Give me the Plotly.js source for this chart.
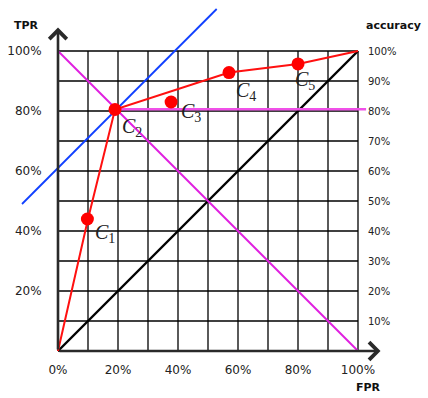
<!DOCTYPE html>
<html>
<head>
<meta charset="utf-8">
<script src="https://cdn.plot.ly/plotly-3.0.1.min.js"></script>
<style>html,body{margin:0;padding:0;background:#fff;}#chart{width:428px;height:398px;}</style>
</head>
<body>
<div id="chart"></div>
<script>
// ---- data ----
var gridVals = [0, 0.1, 0.2, 0.3, 0.4, 0.5, 0.6, 0.7, 0.8, 0.9, 1.0];
var tprTickVals = [0.2, 0.4, 0.6, 0.8, 1.0];
var tprTickText = ['20%', '40%', '60%', '80%', '100%'];
var fprTickVals = [0, 0.2, 0.4, 0.6, 0.8, 1.0];
var fprTickText = ['0%', '20%', '40%', '60%', '80%', '100%'];
var accTickVals = [0.1, 0.2, 0.3, 0.4, 0.5, 0.6, 0.7, 0.8, 0.9, 1.0];
var accTickText = ['10%', '20%', '30%', '40%', '50%', '60%', '70%', '80%', '90%', '100%'];

var rocFPR = [0, 0.10, 0.19, 0.57, 0.80, 1.0];
var rocTPR = [0, 0.44, 0.805, 0.928, 0.957, 1.0];

var classifierNames = ['1', '2', '3', '4', '5'];
var classifierFPR = [0.098, 0.19, 0.377, 0.57, 0.80];
var classifierTPR = [0.44, 0.805, 0.83, 0.928, 0.957];

var chanceFPR = [0, 1];
var chanceTPR = [0, 1];
var antiDiagFPR = [0, 1];
var antiDiagTPR = [1, 0];
var isoAccFPR = [-0.12, 0.529];
var isoAccTPR = [0.49, 1.14];
var accLevelFPR = [0.19, 1.027];
var accLevelTPR = [0.806, 0.806];

// label offsets (pixels) from each classifier point
var labelDx = [6, 5, 8, 5, -5];
var labelDy = [14, 18, 10, 19, 17];

// ---- grid segments from grid values ----
var gx = [], gy = [];
gridVals.forEach(function (v) {
  gx.push(v, v, null); gy.push(0, 1, null);
  gx.push(0, 1, null); gy.push(v, v, null);
});

var traces = [
  {x: gx, y: gy, mode: 'lines', line: {color: '#000', width: 1.3}, hoverinfo: 'skip'},
  {x: chanceFPR, y: chanceTPR, mode: 'lines', line: {color: '#000', width: 2.4}, hoverinfo: 'skip'},
  {x: antiDiagFPR, y: antiDiagTPR, mode: 'lines', line: {color: '#e020e0', width: 2}, hoverinfo: 'skip'},
  {x: accLevelFPR, y: accLevelTPR, mode: 'lines', line: {color: '#f050e8', width: 2.6}, hoverinfo: 'skip'},
  {x: isoAccFPR, y: isoAccTPR, mode: 'lines', line: {color: '#1040ff', width: 1.8}, hoverinfo: 'skip'},
  {x: rocFPR, y: rocTPR, mode: 'lines', line: {color: '#ff1010', width: 2}, hoverinfo: 'skip'},
  {x: classifierFPR, y: classifierTPR, mode: 'markers', marker: {color: '#ff0000', size: 13}, hoverinfo: 'skip'},
  {x: accTickVals.map(function () { return 1; }), y: accTickVals, yaxis: 'y2', mode: 'markers',
   marker: {opacity: 0}, hoverinfo: 'skip'}
];

var xr = [-58 / 300, 370 / 300];
var yr = [-47 / 300, 351 / 300];

var annotations = [
  // axis arrows
  {x: 1.075, y: 0, ax: 0, ay: 0, xref: 'x', yref: 'y', axref: 'x', ayref: 'y',
   showarrow: true, arrowhead: 4, arrowsize: 1.3, arrowwidth: 2.6, arrowcolor: '#2a2a2a', text: ''},
  {x: 0, y: 1.078, ax: 0, ay: 0, xref: 'x', yref: 'y', axref: 'x', ayref: 'y',
   showarrow: true, arrowhead: 4, arrowsize: 1.3, arrowwidth: 2.6, arrowcolor: '#2a2a2a', text: ''},
  // axis titles
  {x: 27 / 428, y: 1 - 26 / 398, xref: 'paper', yref: 'paper', xanchor: 'center', yanchor: 'middle',
   text: '<b>TPR</b>', showarrow: false, font: {family: 'DejaVu Sans', size: 11, color: '#111'}},
  {x: 393 / 428, y: 1 - 26 / 398, xref: 'paper', yref: 'paper', xanchor: 'center', yanchor: 'middle',
   text: '<b>accuracy</b>', showarrow: false, font: {family: 'DejaVu Sans', size: 11, color: '#111'}},
  {x: 368 / 428, y: 1 - 387 / 398, xref: 'paper', yref: 'paper', xanchor: 'center', yanchor: 'middle',
   text: '<b>FPR</b>', showarrow: false, font: {family: 'DejaVu Sans', size: 11, color: '#111'}}
];

classifierNames.forEach(function (n, i) {
  annotations.push({
    x: classifierFPR[i], y: classifierTPR[i], xref: 'x', yref: 'y',
    text: '<i>C</i><sub>' + n + '</sub>', showarrow: false,
    xanchor: 'left', yanchor: 'middle', xshift: labelDx[i], yshift: -labelDy[i],
    font: {family: 'Liberation Serif', size: 20, color: '#222'}
  });
});

var layout = {
  width: 428, height: 398,
  margin: {l: 0, r: 0, t: 0, b: 0},
  paper_bgcolor: '#fff', plot_bgcolor: '#fff',
  showlegend: false,
  font: {family: 'DejaVu Sans', size: 12, color: '#222'},
  xaxis: {range: xr, showgrid: false, zeroline: false, showline: false,
          anchor: 'free', position: 47 / 398,
          tickmode: 'array', tickvals: fprTickVals, ticktext: fprTickText,
          ticks: 'outside', ticklen: 8, tickcolor: 'rgba(0,0,0,0)',
          tickfont: {family: 'DejaVu Sans', size: 12, color: '#222'}},
  yaxis: {range: yr, showgrid: false, zeroline: false, showline: false,
          anchor: 'free', position: 58 / 428,
          tickmode: 'array', tickvals: tprTickVals, ticktext: tprTickText,
          ticks: 'outside', ticklen: 14, tickcolor: 'rgba(0,0,0,0)',
          tickfont: {family: 'DejaVu Sans', size: 12, color: '#222'}},
  yaxis2: {range: yr, overlaying: 'y', side: 'right', showgrid: false, zeroline: false, showline: false,
           anchor: 'free', position: 358 / 428,
           tickmode: 'array', tickvals: accTickVals, ticktext: accTickText,
           ticks: 'outside', ticklen: 7, tickcolor: 'rgba(0,0,0,0)',
           tickfont: {family: 'DejaVu Sans', size: 10, color: '#222'}},
  annotations: annotations
};

Plotly.newPlot('chart', traces, layout, {displayModeBar: false, staticPlot: true});
</script>
</body>
</html>
